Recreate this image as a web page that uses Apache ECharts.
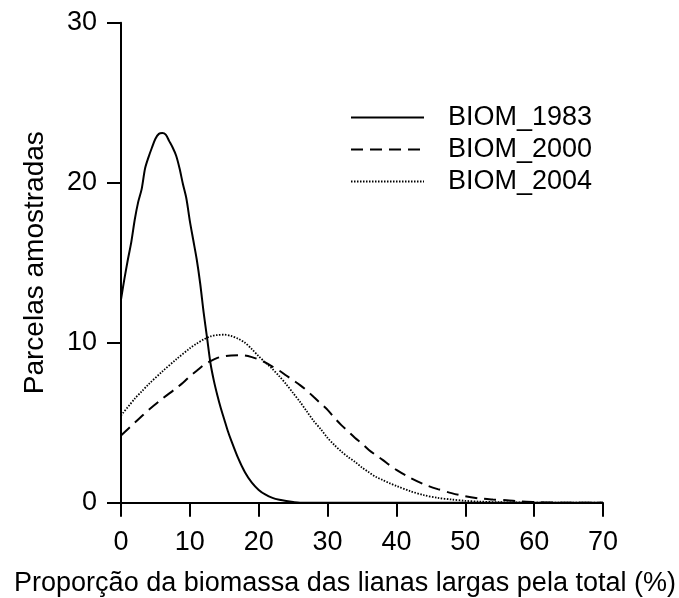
<!DOCTYPE html>
<html>
<head>
<meta charset="utf-8">
<script src="https://cdn.jsdelivr.net/npm/echarts@6/dist/echarts.min.js"></script>
<style>
html,body{margin:0;padding:0;background:#fff;}
#chart{width:679px;height:598px;}
</style>
</head>
<body>
<div id="chart"></div>
<script>
var seriesNames = ['BIOM_1983', 'BIOM_2000', 'BIOM_2004'];

var x1983 = [0, 0.5, 1, 1.5, 2, 2.5, 3, 3.5, 4, 4.5, 5, 5.5, 6, 6.5, 7, 7.5, 8, 8.5, 9, 9.5, 10, 10.5, 11, 11.5, 12, 12.5, 13, 13.5, 14, 14.5, 15, 15.5, 16, 17, 18, 19, 20, 21, 22, 23, 24, 25, 26, 30, 40, 50, 60, 70];
var y1983 = [12.7, 14.0, 15.2, 16.3, 17.7, 18.8, 19.6, 20.9, 21.6, 22.2, 22.75, 23.05, 23.1, 23.0, 22.6, 22.2, 21.7, 20.9, 19.9, 19.0, 17.6, 16.4, 15.2, 13.7, 11.9, 10.3, 8.7, 7.6, 6.7, 5.9, 5.2, 4.5, 3.9, 2.8, 1.9, 1.25, 0.8, 0.5, 0.3, 0.18, 0.1, 0.04, 0, 0, 0, 0, 0, 0];

var x2000 = [0, 2, 3, 4, 6, 8, 9, 10, 11, 12, 13, 14, 15, 16, 17, 18, 19, 20, 21, 22, 23, 24, 25, 26, 27, 28, 29, 30, 31, 32, 33, 34, 35, 36, 37, 38, 39, 40, 42, 44, 46, 48, 50, 52, 54, 56, 58, 60, 62, 66, 70];
var y2000 = [4.2, 5.0, 5.4, 5.8, 6.5, 7.15, 7.5, 7.9, 8.25, 8.6, 8.85, 9.05, 9.15, 9.2, 9.22, 9.2, 9.1, 8.95, 8.75, 8.5, 8.25, 7.95, 7.65, 7.35, 7.0, 6.6, 6.2, 5.8, 5.3, 4.85, 4.45, 4.05, 3.7, 3.3, 2.98, 2.68, 2.35, 2.05, 1.55, 1.15, 0.85, 0.6, 0.4, 0.27, 0.2, 0.15, 0.08, 0.04, 0.01, 0, 0];

var x2004 = [0, 2, 3, 4, 6, 8, 10, 11, 12, 13, 14, 15, 16, 17, 18, 19, 20, 21, 22, 23, 24, 25, 26, 27, 28, 29, 30, 31, 32, 33, 34, 35, 36, 37, 38, 39, 40, 42, 44, 46, 48, 50, 52, 55, 60, 65, 70];
var y2004 = [5.45, 6.5, 6.95, 7.4, 8.2, 8.95, 9.65, 9.95, 10.2, 10.4, 10.48, 10.5, 10.42, 10.25, 10.0, 9.6, 9.15, 8.75, 8.35, 7.9, 7.4, 6.85, 6.3, 5.7, 5.1, 4.6, 4.05, 3.6, 3.2, 2.85, 2.55, 2.2, 1.9, 1.62, 1.42, 1.22, 1.05, 0.72, 0.47, 0.3, 0.2, 0.12, 0.07, 0.03, 0.01, 0, 0];

var xTicks = [0, 10, 20, 30, 40, 50, 60, 70];
var yTicks = [0, 10, 20, 30];

function pairs(xs, ys) {
  return xs.map(function (x, i) { return [x, ys[i]]; });
}

var FONT = '"Liberation Sans", Arial, sans-serif';
var chart = echarts.init(document.getElementById('chart'), null, {renderer: 'canvas'});
chart.setOption({
  backgroundColor: '#ffffff',
  animation: false,
  grid: {left: 121, right: 76, top: 22.7, bottom: 95.3, containLabel: false, outerBoundsMode: 'none'},
  legend: {
    data: seriesNames,
    orient: 'vertical',
    left: 350,
    top: 104,
    padding: 0,
    itemWidth: 73,
    itemHeight: 27,
    itemGap: 5,
    itemStyle: {opacity: 0},
    textStyle: {fontFamily: FONT, fontSize: 27, color: '#000', padding: [0, 0, 0, 19]}
  },
  xAxis: {
    type: 'value',
    min: xTicks[0],
    max: xTicks[xTicks.length - 1],
    interval: 10,
    name: 'Proporção da biomassa das lianas largas pela total (%)',
    nameLocation: 'middle',
    nameGap: 67,
    nameTextStyle: {fontFamily: FONT, fontSize: 27, color: '#000', padding: [0, 34, 0, 0]},
    axisLine: {show: true, lineStyle: {color: '#000', width: 2}},
    axisTick: {show: true, length: 14, lineStyle: {color: '#000', width: 2}},
    axisLabel: {fontFamily: FONT, fontSize: 27, color: '#000', margin: 26},
    splitLine: {show: false}
  },
  yAxis: {
    type: 'value',
    min: yTicks[0],
    max: yTicks[yTicks.length - 1],
    interval: 10,
    name: 'Parcelas amostradas',
    nameLocation: 'middle',
    nameGap: 72,
    nameRotate: 90,
    nameTextStyle: {fontFamily: FONT, fontSize: 28, color: '#000'},
    axisLine: {show: true, lineStyle: {color: '#000', width: 2}},
    axisTick: {show: true, length: 14, lineStyle: {color: '#000', width: 2}},
    axisLabel: {fontFamily: FONT, fontSize: 27, color: '#000', margin: 24},
    splitLine: {show: false}
  },
  series: [
    {
      name: seriesNames[0], type: 'line', smooth: 0.3, symbol: 'none',
      data: pairs(x1983, y1983),
      lineStyle: {color: '#000', width: 2, type: 'solid'},
      itemStyle: {color: '#000'}
    },
    {
      name: seriesNames[1], type: 'line', smooth: 0.3, symbol: 'none',
      data: pairs(x2000, y2000),
      lineStyle: {color: '#000', width: 2, type: [12, 7]},
      itemStyle: {color: '#000'}
    },
    {
      name: seriesNames[2], type: 'line', smooth: 0.3, symbol: 'none',
      data: pairs(x2004, y2004),
      lineStyle: {color: '#000', width: 1.8, type: [1.5, 1.5]},
      itemStyle: {color: '#000'}
    }
  ]
});
</script>
</body>
</html>
